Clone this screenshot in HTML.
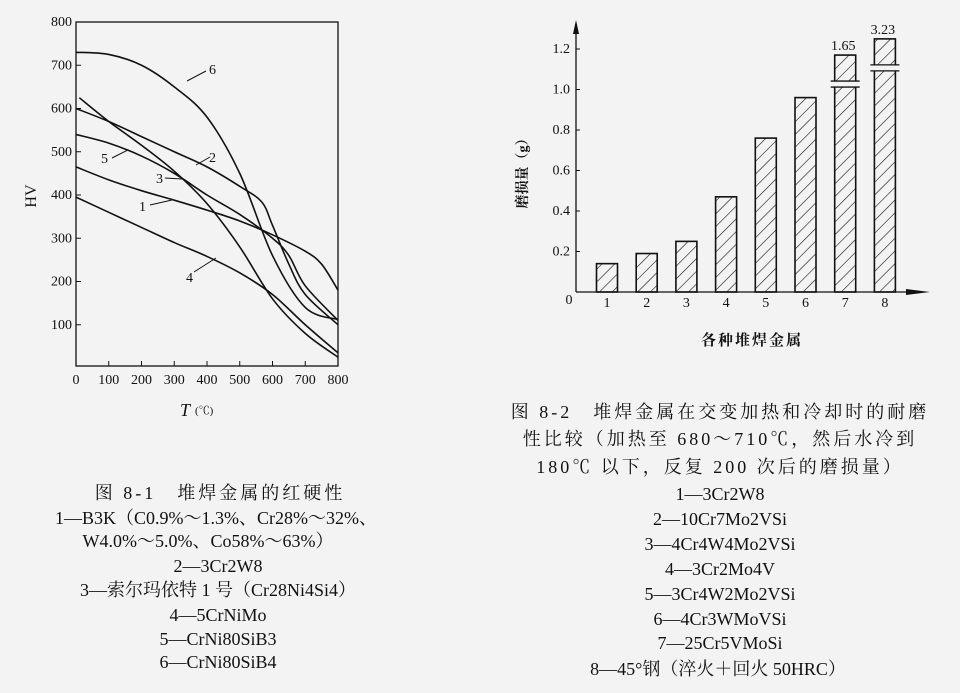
<!DOCTYPE html>
<html><head><meta charset="utf-8">
<style>
html,body{margin:0;padding:0;background:#f3f3f3;}
svg{display:block;}
text{font-family:"Liberation Serif","Noto Serif CJK SC",serif;fill:#111;}
.cap{font-size:18px;}
.ttl{letter-spacing:3px;}
.tk{font-size:14px;}
</style></head>
<body>
<svg id="svg" width="960" height="693" viewBox="0 0 960 693" xmlns="http://www.w3.org/2000/svg">
<defs>
<pattern id="hatch" width="9" height="9" patternUnits="userSpaceOnUse" patternTransform="rotate(45)">
<line x1="0" y1="0" x2="0" y2="9" stroke="#111" stroke-width="1.2"/>
</pattern>
</defs>
<g id="left"></g>
<g id="right"></g>

<g text-anchor="middle" class="cap">
<text x="220" y="499" class="ttl">图 8-1　堆焊金属的红硬性</text>
<text x="216" y="524">1—B3K（C0.9%～1.3%、Cr28%～32%、</text>
<text x="208" y="547">W4.0%～5.0%、Co58%～63%）</text>
<text x="218" y="572">2—3Cr2W8</text>
<text x="218" y="596">3—索尔玛依特 1 号（Cr28Ni4Si4）</text>
<text x="218" y="621">4—5CrNiMo</text>
<text x="218" y="645">5—CrNi80SiB3</text>
<text x="218" y="668">6—CrNi80SiB4</text>
</g>
<g text-anchor="middle" class="cap">
<text x="720" y="418" class="ttl">图 8-2　堆焊金属在交变加热和冷却时的耐磨</text>
<text x="720" y="445" class="ttl">性比较（加热至 680～710℃，然后水冷到</text>
<text x="720" y="473" class="ttl">180℃ 以下，反复 200 次后的磨损量）</text>
<text x="720" y="500">1—3Cr2W8</text>
<text x="720" y="525">2—10Cr7Mo2VSi</text>
<text x="720" y="550">3—4Cr4W4Mo2VSi</text>
<text x="720" y="575">4—3Cr2Mo4V</text>
<text x="720" y="600">5—3Cr4W2Mo2VSi</text>
<text x="720" y="625">6—4Cr3WMoVSi</text>
<text x="720" y="649">7—25Cr5VMoSi</text>
<text x="718" y="675">8—45°钢（淬火＋回火 50HRC）</text>
</g>
</svg>
<script>
// ---------- Left chart data ----------
const tempTicks = [0,100,200,300,400,500,600,700,800];
const hvTicks = [100,200,300,400,500,600,700,800];
const curveLabels = ["1","2","3","4","5","6"];
const c1T = [0,100,200,300,400,500,600,700,750,800];
const c1V = [465,435,410,388,365,340,308,270,240,180];
const c2T = [0,100,200,300,400,500,567,600,650,700,800];
const c2V = [600,570,535,500,465,420,384,330,240,170,100];
const c3T = [10,100,200,300,400,500,600,700,800];
const c3V = [625,570,515,455,380,280,160,80,25];
const c4T = [0,100,200,300,400,500,600,700,800];
const c4V = [395,360,325,290,258,220,170,100,35];
const c5T = [0,100,200,300,400,500,600,650,700,800];
const c5V = [540,520,490,450,400,355,300,260,190,110];
const c6T = [0,100,200,300,400,500,600,700,800];
const c6V = [730,725,700,650,580,450,260,140,112];
// ---------- Right chart data ----------
const metals = ["1","2","3","4","5","6","7","8"];
const wear = [0.14,0.19,0.25,0.47,0.76,0.96,1.65,3.23];
const wearTicks = [0.2,0.4,0.6,0.8,1.0,1.2];
const wearTickLabels = ["0.2","0.4","0.6","0.8","1.0","1.2"];
const brokenLabels = ["","","","","","","1.65","3.23"];

const NS="http://www.w3.org/2000/svg";
function mk(tag,attrs,parent,txt){const e=document.createElementNS(NS,tag);for(const k in attrs)e.setAttribute(k,attrs[k]);if(txt!==undefined)e.textContent=txt;parent.appendChild(e);return e;}
function smooth(pts){let d="M"+pts[0][0]+","+pts[0][1];for(let i=0;i<pts.length-1;i++){const p0=pts[i-1]||pts[i],p1=pts[i],p2=pts[i+1],p3=pts[i+2]||p2;const c1=[p1[0]+(p2[0]-p0[0])/6,p1[1]+(p2[1]-p0[1])/6],c2=[p2[0]-(p3[0]-p1[0])/6,p2[1]-(p3[1]-p1[1])/6];d+=" C"+c1[0]+","+c1[1]+" "+c2[0]+","+c2[1]+" "+p2[0]+","+p2[1];}return d;}

// Left axes
const L=document.getElementById('left');
const X0=76,X1=338,Y0=368,YTOP=22;
const xs=t=>X0+(t/800)*(X1-X0);
const ys=v=>Y0-(v/800)*(Y0-YTOP);
let e=mk('rect',{x:X0,y:YTOP,width:X1-X0,height:366-YTOP,fill:'none',stroke:'#111','stroke-width':1.3},L);

tempTicks.forEach(t=>{
 let l=mk('line',{x1:xs(t),x2:xs(t),y1:366,y2:361,stroke:'#111'},L);
 
 let tx=mk('text',{x:xs(t),y:384,'text-anchor':'middle',class:'tk'},L,String(t));
 
});
hvTicks.forEach(v=>{
 let l=mk('line',{x1:X0,x2:X0+5,y1:ys(v),y2:ys(v),stroke:'#111'},L);
 
 let tx=mk('text',{x:X0-4,y:ys(v)+4,'text-anchor':'end',class:'tk'},L,String(v));
 
});
e=mk('text',{x:36,y:196,'text-anchor':'middle',transform:'rotate(-90 36 196)','font-size':'16'},L,'HV');

e=mk('text',{x:180,y:416,'font-size':'18','font-style':'italic'},L,'T');

e=mk('text',{x:195,y:414,'font-size':'11'},L,'(℃)');


const curves=[[c1T,c1V],[c2T,c2V],[c3T,c3V],[c4T,c4V],[c5T,c5V],[c6T,c6V]];
curves.forEach((c,i)=>{
 const pts=c[0].map((t,j)=>[xs(t),ys(c[1][j])]);
 const p=mk('path',{d:smooth(pts),fill:'none',stroke:'#111','stroke-width':1.6},L);
 
 
});
const lab=[[143,209,150,205,172,200],[213,160,196,165,210,157],[160,181,165,178,182,179],[190,280,194,272,216,258],[105,161,112,158,128,150],[213,72,187,81,206,71]];
lab.forEach((a,i)=>{
 const l=mk('line',{x1:a[2],y1:a[3],x2:a[4],y2:a[5],stroke:'#111','stroke-width':1},L);
 
 const t=mk('text',{x:a[0]-4,y:a[1]+2,'font-size':'14'},L,curveLabels[i]);
 
});

// Right chart
const R=document.getElementById('right');
const AX=576,BY=292,RT=20;
const yr=v=>BY-(v/1.2)*(BY-49);
const xr=i=>607+i*39.7;
const BW=21, CAP=[1.17,1.25];
e=mk('line',{x1:AX,x2:AX,y1:BY,y2:RT+6,stroke:'#111','stroke-width':1.3},R);

e=mk('path',{d:`M${AX-3},${RT+14} L${AX},${RT} L${AX+3},${RT+14} Z`,fill:'#111'},R);

e=mk('line',{x1:AX,x2:918,y1:BY,y2:BY,stroke:'#111','stroke-width':1.3},R);

e=mk('path',{d:`M906,${BY-3} L930,${BY} L906,${BY+3} Z`,fill:'#111'},R);

e=mk('text',{x:569,y:304,'text-anchor':'middle',class:'tk'},R,'0');

wearTicks.forEach((v,i)=>{
 const l=mk('line',{x1:AX,x2:AX+4,y1:yr(v),y2:yr(v),stroke:'#111'},R);
 
 const t=mk('text',{x:AX-6,y:yr(v)+4,'text-anchor':'end',class:'tk'},R,wearTickLabels[i]);
 
});
e=mk('text',{x:527,y:170,'text-anchor':'middle',transform:'rotate(-90 527 170)','font-size':'14','font-weight':'bold'},R,'磨损量（g）');

e=mk('text',{x:752,y:345,'text-anchor':'middle','font-size':'15','font-weight':'bold','letter-spacing':'2'},R,'各种堆焊金属');

let capI=0;
metals.forEach((m,i)=>{
 const broken=wear[i]>1.1;
 const dv=broken?CAP[capI++]:wear[i];
 const x=xr(i)-BW/2, y=yr(dv);
 const b=mk('rect',{x:x,y:y,width:BW,height:BY-y,fill:'url(#hatch)',stroke:'#111','stroke-width':1.6},R);
 
 
 const t=mk('text',{x:xr(i),y:307,'text-anchor':'middle',class:'tk'},R,m);
 
 if(broken){
  const gy=y+26;
  const g=mk('rect',{x:x-2,y:gy,width:BW+4,height:6,fill:'#f3f3f3'},R);
  
  const l1=mk('line',{x1:x-4,x2:x+BW+4,y1:gy,y2:gy,stroke:'#111','stroke-width':1.3},R);
  
  const l2=mk('line',{x1:x-4,x2:x+BW+4,y1:gy+6,y2:gy+6,stroke:'#111','stroke-width':1.3},R);
  
  const v=mk('text',{x:xr(i)-2,y:y-5,'text-anchor':'middle',class:'tk'},R,brokenLabels[i]);
  
 }
});
</script>
</body></html>
